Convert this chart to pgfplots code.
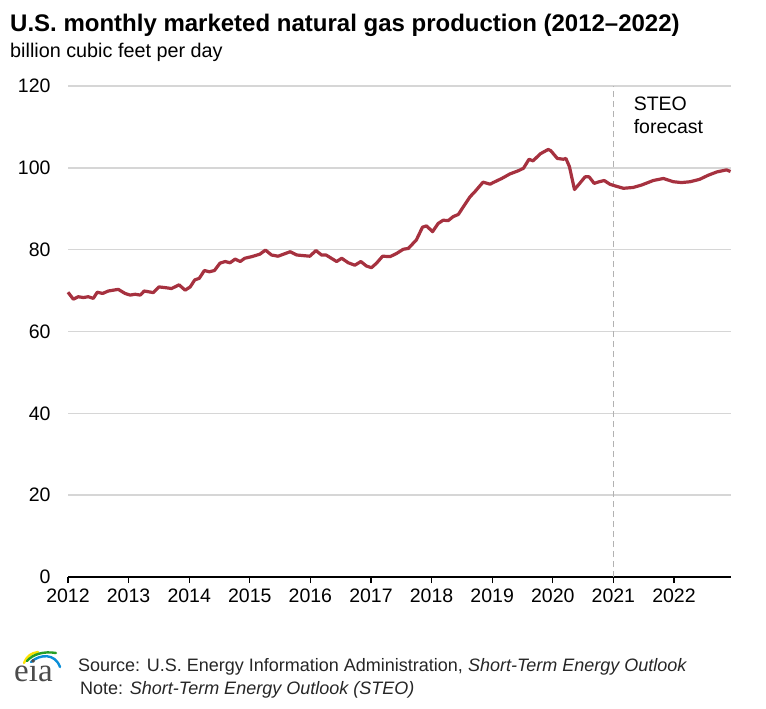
\documentclass[border=0pt]{standalone}
\usepackage{pgfplots}
\pgfplotsset{compat=1.18}
\usepackage{fontspec}
\setmainfont{Liberation Sans}
\newfontfamily\logofont{Liberation Serif}

\definecolor{gasred}{RGB}{166,49,63}
\definecolor{gridgray}{RGB}{214,214,214}
\definecolor{logogray}{RGB}{75,75,75}

\newcommand{\tickfont}{\fontsize{19.5}{23}\selectfont}

\begin{document}
\begin{tikzpicture}
\useasboundingbox (0pt,0pt) rectangle (766pt,-709pt);

% titles
\node[anchor=base west, inner sep=0pt, font=\fontsize{24}{28}\selectfont\bfseries]
    at (10pt,-32pt) {U.S. monthly marketed natural gas production (2012--2022)};
\node[anchor=base west, inner sep=0pt, font=\fontsize{19.8}{23}\selectfont]
    at (10pt,-58pt) {billion cubic feet per day};

\begin{axis}[
    at={(68pt,-577pt)}, anchor=south west,
    width=662.5pt, height=491pt, scale only axis,
    xmin=0, xmax=131.2, ymin=0, ymax=120,
    axis x line=bottom, axis y line=left,
    axis line style={-},
    x axis line style={black, line width=1.2pt},
    y axis line style={draw=none},
    xtick={0,12,...,120},
    xticklabels={2012,2013,2014,2015,2016,2017,2018,2019,2020,2021,2022},
    ytick={0,20,...,120},
    ymajorgrids=true,
    grid style={gridgray, line width=1.6pt},
    tick align=outside,
    major tick length=6pt,
    xtick style={black, line width=1.2pt},
    ytick style={draw=none},
    tick label style={font=\tickfont},
    xticklabel style={yshift=-2pt},
    yticklabel style={xshift=-8pt},
    /pgf/number format/assume math mode=true,
    clip=false,
]
\draw[gray!60, line width=1pt, dash pattern=on 6pt off 4pt]
    (axis cs:108,0) -- (axis cs:108,120);
\node[anchor=north west, align=left, inner sep=0pt, font=\tickfont]
    at (axis cs:112,117.5) {STEO\\forecast};

\addplot[gasred, line width=3.2pt, line join=round] coordinates {
(0,69.6) (1.05,67.9) (2.04,68.5) (3.03,68.3) (4.02,68.5) (5.01,68.1)
(5.8,69.6) (6.87,69.3) (7.98,69.9) (9.96,70.3) (11.3,69.3) (12.3,68.9)
(13.3,69.1) (14.3,68.9) (15.1,69.9) (16.9,69.5) (18.0,70.9) (19.4,70.7)
(20.5,70.5) (22.0,71.4) (23.2,70.1) (24.2,70.9) (25.1,72.6) (26.0,73.0)
(27.0,74.9) (28.0,74.6) (29.0,74.9) (30.1,76.7) (31.1,77.1) (32.1,76.8)
(33.1,77.7) (34.1,77.1) (35.0,77.9) (36.4,78.3) (38.0,78.9) (39.1,79.9)
(40.3,78.7) (41.6,78.4) (44.0,79.5) (45.3,78.7) (47.9,78.4) (49.1,79.8)
(50.2,78.7) (51.1,78.7) (53.2,77.1) (54.2,77.9) (55.5,76.8) (56.8,76.2)
(58.0,77.1) (59.1,76.0) (60.1,75.6) (61.1,76.7) (62.3,78.4) (63.8,78.3)
(65.1,79.1) (66.4,80.1) (67.4,80.3) (69.0,82.4) (70.2,85.5) (71.0,85.8)
(72.2,84.4) (73.3,86.4) (74.3,87.2) (75.3,87.1) (76.3,88.1) (77.3,88.6)
(78.3,90.5) (79.6,92.9) (80.6,94.2) (82.2,96.5) (83.6,96.0) (84.2,96.4)
(85.9,97.4) (87.5,98.5) (89.2,99.3) (90.2,99.9) (91.3,102.1) (92.1,101.7)
(93.5,103.4) (95.1,104.5) (95.6,104.2) (96.9,102.3) (98.1,102.1) (98.6,102.3)
(99.3,100.3) (100.3,94.7) (101.2,96.0) (102.4,97.8) (103.2,97.8) (104.2,96.2)
(105.2,96.6) (106.2,96.9) (107.3,96.0) (108.3,95.6) (110.0,95.0) (111.9,95.2)
(113.6,95.8) (115.9,96.9) (117.9,97.4) (119.9,96.6) (121.5,96.4) (123.2,96.6)
(125.1,97.2) (126.8,98.2) (128.5,99.0) (130.4,99.5) (131.2,99.1)
};
\end{axis}

% eia logo
\begin{scope}[line width=2.4pt, line cap=round]
\draw[yellow!85!orange] (24pt,-663pt) .. controls (27pt,-656pt) and (31pt,-653pt) .. (38pt,-652pt);
\draw[green!55!black!85] (27pt,-661pt) .. controls (33pt,-654pt) and (44pt,-651pt) .. (56pt,-653pt);
\draw[cyan!75!blue] (31pt,-662pt) .. controls (40pt,-654pt) and (55pt,-653pt) .. (60pt,-667pt);
\end{scope}
\node[anchor=base west, inner sep=0pt, text=logogray, font=\logofont\fontsize{33}{35}\selectfont]
    at (14pt,-681pt) {eia};

% source notes
\node[anchor=base west, inner sep=0pt, font=\fontsize{18}{21}\selectfont, text=black!85]
    at (78pt,-671pt) {Source: U.S. Energy Information Administration, \textit{Short-Term Energy Outlook}};
\node[anchor=base west, inner sep=0pt, font=\fontsize{18}{21}\selectfont, text=black!85]
    at (80pt,-694pt) {Note: \textit{Short-Term Energy Outlook (STEO)}};
\end{tikzpicture}
\end{document}
